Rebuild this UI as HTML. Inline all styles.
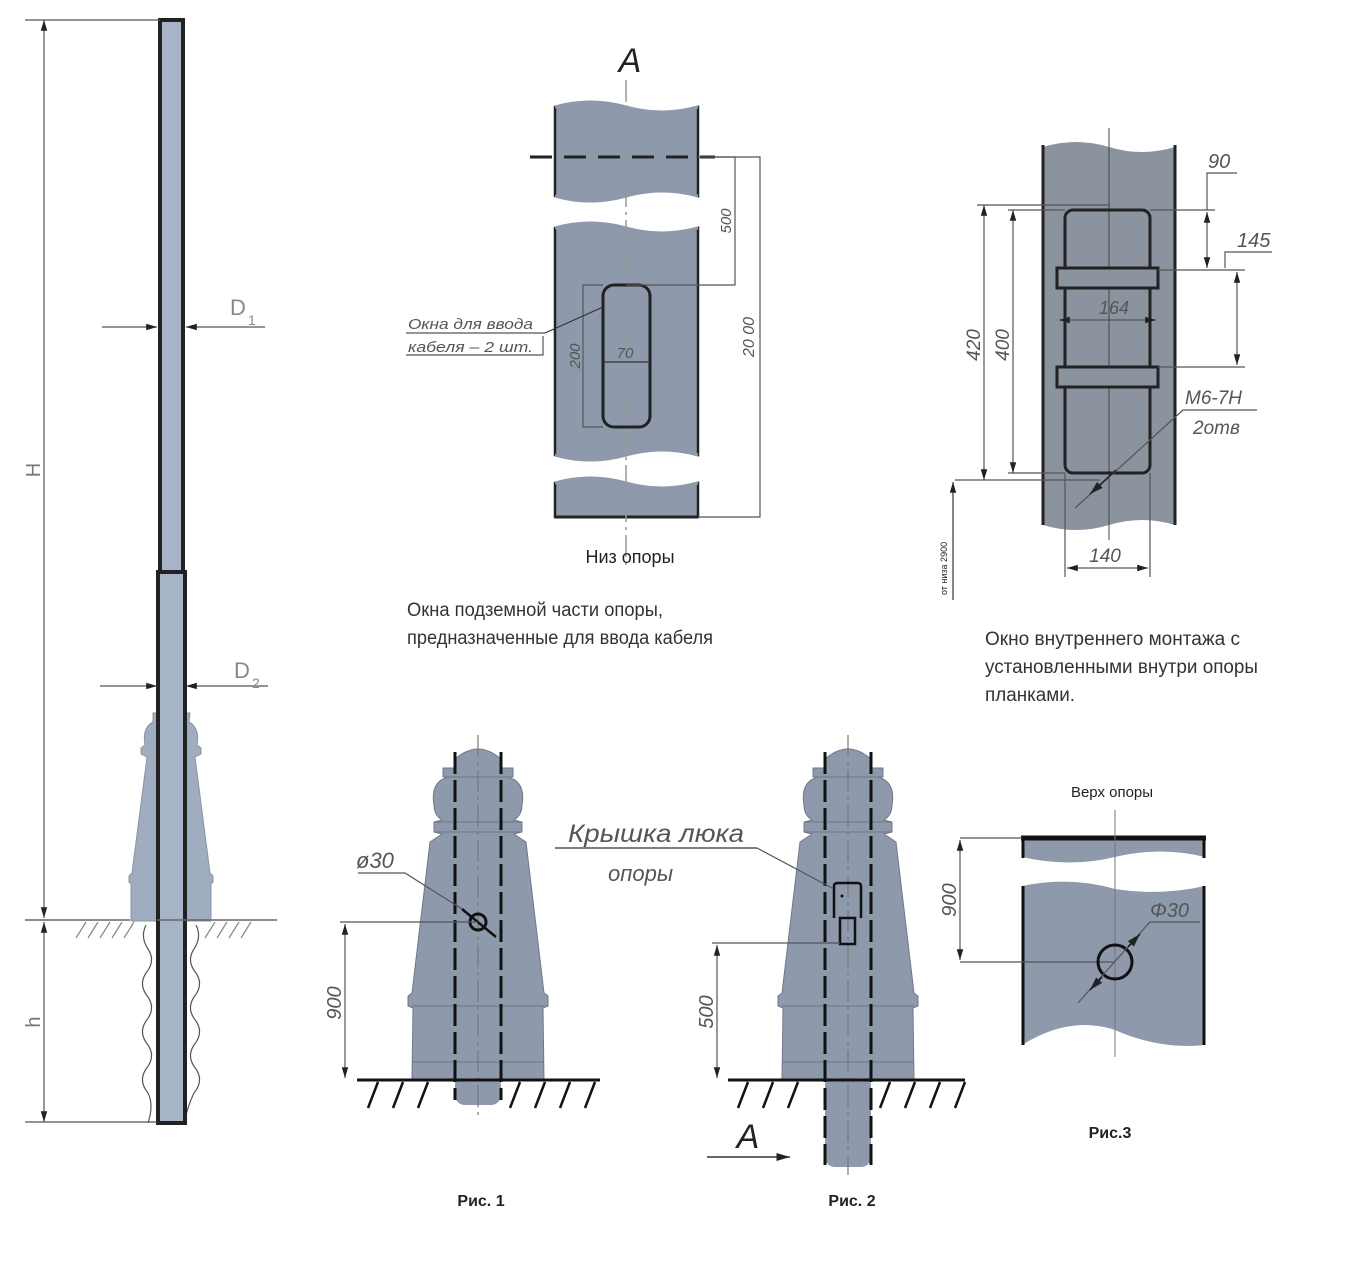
<!DOCTYPE html>
<html><head><meta charset="utf-8"><style>
html,body{margin:0;padding:0;background:#fff;}
svg{display:block;}
text{font-family:"Liberation Sans","DejaVu Sans",sans-serif;}
.dim{stroke:#555;stroke-width:1.2;fill:none;}
.cl{stroke:#777;stroke-width:1.2;fill:none;}
.it{font-style:italic;fill:#555;}
</style></head><body>
<svg width="1360" height="1280" viewBox="0 0 1360 1280" xmlns="http://www.w3.org/2000/svg">
<defs>
<marker id="ar" viewBox="0 0 10 10" refX="10" refY="5" markerWidth="9" markerHeight="9" orient="auto-start-reverse"><path d="M0,2 L10,5 L0,8 Z" fill="#222"/></marker>
<path id="base" d="M -24,760 Q 0,738 24,760 L 24,768 L 35,768 L 35,777 L 30,777 Q 48,782 44,805 Q 44,815 36,820 L 44,822 L 44,832 L 36,834 L 48,842 L 66,993 L 70,996 L 70,1006 L 65,1008 L 66,1080 L -66,1080 L -65,1008 L -70,1006 L -70,996 L -66,993 L -48,842 L -36,834 L -44,832 L -44,822 L -36,820 Q -44,815 -44,805 Q -48,782 -30,777 L -35,777 L -35,768 L -24,768 Z"/>
</defs>

<!-- ============ LEFT POLE ============ -->
<path d="M146,925 q-6,12 2,24 q8,12 -2,24 q-8,12 2,24 q8,12 -2,24 q-8,12 2,24 q8,12 -2,24 q-8,12 2,24 q6,12 0,30" class="dim" stroke="#999"/>
<path d="M196,925 q6,12 -2,24 q-8,12 2,24 q8,12 -2,24 q-8,12 2,24 q8,12 -2,24 q-8,12 2,24 q8,12 -2,24 q-6,12 -10,30" class="dim" stroke="#999"/>
<path d="M153,713 L190,713 L189,722 Q200,728 197,745 L201,748 L201,754 L195,757 L210,873 L213,876 L213,882 L211,884 L211,921 L131,921 L131,884 L129,882 L129,876 L132,873 L147,757 L141,754 L141,748 L145,745 Q142,728 153,722 Z" fill="#a0acbf" stroke="#8a94a4" stroke-width="1"/>
<rect x="160" y="20" width="23" height="552" fill="#a7b3c6" stroke="#222" stroke-width="4"/>
<rect x="158" y="572" width="27" height="551" fill="#a7b3c6" stroke="#222" stroke-width="4"/>
<line x1="157" y1="920" x2="277" y2="920" stroke="#666" stroke-width="1.5"/>
<line x1="25" y1="920" x2="130" y2="920" stroke="#666" stroke-width="1.5"/>
<g stroke="#888" stroke-width="1.2">
<line x1="76" y1="938" x2="86" y2="922"/><line x1="88" y1="938" x2="98" y2="922"/><line x1="100" y1="938" x2="110" y2="922"/><line x1="112" y1="938" x2="122" y2="922"/><line x1="124" y1="938" x2="134" y2="922"/>
<line x1="205" y1="938" x2="215" y2="922"/><line x1="217" y1="938" x2="227" y2="922"/><line x1="229" y1="938" x2="239" y2="922"/><line x1="241" y1="938" x2="251" y2="922"/>
</g>
<line x1="25" y1="20" x2="160" y2="20" class="dim"/>
<line x1="44" y1="20" x2="44" y2="918" class="dim" marker-start="url(#ar)" marker-end="url(#ar)"/>
<line x1="44" y1="922" x2="44" y2="1122" class="dim" marker-start="url(#ar)" marker-end="url(#ar)"/>
<line x1="25" y1="1122" x2="157" y2="1122" class="dim"/>
<text x="40" y="470" font-size="20" fill="#777" transform="rotate(-90 40 470)" text-anchor="middle">H</text>
<text x="40" y="1022" font-size="20" fill="#777" transform="rotate(-90 40 1022)" text-anchor="middle">h</text>
<line x1="102" y1="327" x2="157" y2="327" class="dim" marker-end="url(#ar)"/>
<line x1="265" y1="327" x2="186" y2="327" class="dim" marker-end="url(#ar)"/>
<text x="230" y="315" font-size="22" fill="#888">D</text><text x="248" y="325" font-size="14" fill="#888">1</text>
<line x1="100" y1="686" x2="157" y2="686" class="dim" marker-end="url(#ar)"/>
<line x1="268" y1="686" x2="186" y2="686" class="dim" marker-end="url(#ar)"/>
<text x="234" y="678" font-size="22" fill="#888">D</text><text x="252" y="688" font-size="14" fill="#888">2</text>

<!-- ============ FIG A ============ -->
<g fill="#8e99ac" stroke="#222" stroke-width="2.5">
<path d="M555,107 Q590,97 626,107 Q662,117 698,107 L698,196 Q662,186 626,196 Q590,206 555,196 Z"/>
<path d="M555,228 Q590,218 626,228 Q662,238 698,228 L698,455 Q662,445 626,455 Q590,465 555,455 Z"/>
<path d="M555,483 Q590,473 626,483 Q662,493 698,483 L698,517 L555,517 Z"/>
</g>
<g fill="none" stroke="#8e99ac" stroke-width="3">
<path d="M555,107 Q590,97 626,107 Q662,117 698,107"/><path d="M555,196 Q590,206 626,196 Q662,186 698,196"/>
<path d="M555,228 Q590,218 626,228 Q662,238 698,228"/><path d="M555,455 Q590,465 626,455 Q662,445 698,455"/>
<path d="M555,483 Q590,473 626,483 Q662,493 698,483"/>
</g>
<line x1="555" y1="517" x2="698" y2="517" stroke="#222" stroke-width="3"/>
<line x1="626" y1="80" x2="626" y2="565" stroke="#999" stroke-width="1.5" stroke-dasharray="22,5,3,5"/>
<line x1="530" y1="157" x2="715" y2="157" stroke="#222" stroke-width="3" stroke-dasharray="22,12"/>
<rect x="603" y="285" width="47" height="142" rx="11" fill="none" stroke="#222" stroke-width="3"/>
<polyline points="698,157 735,157 735,285 626,285" class="dim"/>
<polyline points="715,157 760,157 760,517 698,517" class="dim"/>
<polyline points="603,285 583,285 583,427 603,427" class="dim"/>
<line x1="603" y1="362" x2="650" y2="362" stroke="#333" stroke-width="1.2"/>
<text x="625" y="358" class="it" font-size="15" text-anchor="middle">70</text>
<text x="580" y="356" class="it" font-size="15" transform="rotate(-90 580 356)" text-anchor="middle">200</text>
<text x="731" y="221" class="it" font-size="15" transform="rotate(-90 731 221)" text-anchor="middle">500</text>
<text x="754" y="337" class="it" font-size="16" transform="rotate(-90 754 337)" text-anchor="middle">20 00</text>
<text x="408" y="329" class="it" font-size="15" textLength="125" lengthAdjust="spacingAndGlyphs">Окна для ввода</text>
<text x="408" y="352" class="it" font-size="15" textLength="125" lengthAdjust="spacingAndGlyphs">кабеля – 2 шт.</text>
<line x1="406" y1="333" x2="545" y2="333" stroke="#555" stroke-width="1.2"/>
<polyline points="406,355 543,355 543,336" class="dim" stroke="#bbb"/>
<line x1="545" y1="333" x2="603" y2="307" stroke="#333" stroke-width="1.2"/>
<text x="630" y="72" font-size="34" font-style="italic" fill="#222" text-anchor="middle">A</text>
<text x="630" y="563" font-size="18" fill="#222" text-anchor="middle">Низ опоры</text>
<text x="407" y="616" font-size="19" fill="#333" textLength="256" lengthAdjust="spacingAndGlyphs">Окна подземной части опоры,</text>
<text x="407" y="644" font-size="19" fill="#333" textLength="306" lengthAdjust="spacingAndGlyphs">предназначенные для ввода кабеля</text>

<!-- ============ TOP RIGHT ============ -->
<path d="M1043,147 Q1076,137 1109,147 Q1142,157 1175,147 L1175,525 Q1142,515 1109,525 Q1076,535 1043,525 Z" fill="#8b939f" stroke="none"/>
<line x1="1043" y1="145" x2="1043" y2="525" stroke="#222" stroke-width="3"/>
<line x1="1175" y1="145" x2="1175" y2="525" stroke="#222" stroke-width="3"/>
<line x1="1109" y1="128" x2="1109" y2="540" stroke="#444" stroke-width="1"/>
<rect x="1065" y="210" width="85" height="263" rx="8" fill="none" stroke="#222" stroke-width="3"/>
<rect x="1057" y="268" width="101" height="20" fill="#8b939f" stroke="#222" stroke-width="3"/>
<rect x="1057" y="367" width="101" height="20" fill="#8b939f" stroke="#222" stroke-width="3"/>
<line x1="977" y1="205" x2="1110" y2="205" class="dim"/>
<line x1="1008" y1="210" x2="1065" y2="210" class="dim"/>
<line x1="1008" y1="473" x2="1065" y2="473" class="dim"/>
<line x1="955" y1="480" x2="1100" y2="480" class="dim"/>
<line x1="984" y1="205" x2="984" y2="480" class="dim" marker-start="url(#ar)" marker-end="url(#ar)"/>
<line x1="1013" y1="210" x2="1013" y2="473" class="dim" marker-start="url(#ar)" marker-end="url(#ar)"/>
<text x="980" y="345" class="it" font-size="19" transform="rotate(-90 980 345)" text-anchor="middle">420</text>
<text x="1009" y="345" class="it" font-size="19" transform="rotate(-90 1009 345)" text-anchor="middle">400</text>
<line x1="1150" y1="210" x2="1215" y2="210" class="dim"/>
<line x1="1158" y1="270" x2="1245" y2="270" class="dim"/>
<line x1="1158" y1="367" x2="1245" y2="367" class="dim"/>
<polyline points="1237,173 1207,173 1207,210" class="dim"/>
<line x1="1207" y1="212" x2="1207" y2="268" class="dim" marker-start="url(#ar)" marker-end="url(#ar)"/>
<text x="1208" y="168" class="it" font-size="20">90</text>
<polyline points="1272,252 1225,252 1225,268" class="dim"/>
<line x1="1237" y1="272" x2="1237" y2="365" class="dim" marker-start="url(#ar)" marker-end="url(#ar)"/>
<text x="1237" y="247" class="it" font-size="20">145</text>
<line x1="1059" y1="320" x2="1156" y2="320" class="dim" marker-start="url(#ar)" marker-end="url(#ar)"/>
<text x="1114" y="314" class="it" font-size="18" text-anchor="middle">164</text>
<polyline points="1075,508 1183,410 1257,410" class="dim"/>
<line x1="1090" y1="494" x2="1116" y2="470" stroke="#222" stroke-width="1.5" marker-start="url(#ar)"/>
<text x="1185" y="404" class="it" font-size="19">M6-7H</text>
<text x="1193" y="434" class="it" font-size="19">2отв</text>
<line x1="1065" y1="473" x2="1065" y2="577" class="dim"/>
<line x1="1150" y1="473" x2="1150" y2="577" class="dim"/>
<line x1="1067" y1="568" x2="1148" y2="568" class="dim" marker-start="url(#ar)" marker-end="url(#ar)"/>
<text x="1105" y="562" class="it" font-size="19" text-anchor="middle">140</text>
<line x1="953" y1="482" x2="953" y2="600" stroke="#333" stroke-width="1.2" marker-start="url(#ar)"/>
<text x="947" y="595" font-size="9" fill="#222" transform="rotate(-90 947 595)">от низа 2900</text>
<text x="985" y="645" font-size="19" fill="#333" textLength="255" lengthAdjust="spacingAndGlyphs">Окно внутреннего монтажа с</text>
<text x="985" y="673" font-size="19" fill="#333" textLength="273" lengthAdjust="spacingAndGlyphs">установленными внутри опоры</text>
<text x="985" y="701" font-size="19" fill="#333" textLength="90" lengthAdjust="spacingAndGlyphs">планками.</text>

<!-- ============ FIG 1 ============ -->
<rect x="455" y="1075" width="46" height="30" rx="10" fill="#8e99ac"/>
<g transform="translate(478,0)"><use href="#base" fill="#8e99ac" stroke="#6e788a" stroke-width="1"/></g>
<g stroke="#6e788a" stroke-width="1"><line x1="443" y1="777" x2="513" y2="777"/><line x1="434" y1="822" x2="522" y2="822"/><line x1="434" y1="832" x2="522" y2="832"/><line x1="412" y1="1006" x2="544" y2="1006"/><line x1="412" y1="1062" x2="544" y2="1062"/></g>
<line x1="478" y1="735" x2="478" y2="1118" class="cl" stroke-dasharray="22,5,3,5"/>
<line x1="455" y1="752" x2="455" y2="1100" stroke="#111" stroke-width="3" stroke-dasharray="22,6"/>
<line x1="501" y1="752" x2="501" y2="1100" stroke="#111" stroke-width="3" stroke-dasharray="22,6"/>
<line x1="357" y1="1080" x2="600" y2="1080" stroke="#111" stroke-width="3"/>
<g stroke="#111" stroke-width="2.5"><line x1="368" y1="1108" x2="378" y2="1082"/><line x1="393" y1="1108" x2="403" y2="1082"/><line x1="418" y1="1108" x2="428" y2="1082"/><line x1="510" y1="1108" x2="520" y2="1082"/><line x1="535" y1="1108" x2="545" y2="1082"/><line x1="560" y1="1108" x2="570" y2="1082"/><line x1="585" y1="1108" x2="595" y2="1082"/></g>
<circle cx="478" cy="922" r="8" fill="none" stroke="#111" stroke-width="3"/>
<line x1="462" y1="909" x2="496" y2="937" stroke="#111" stroke-width="2.5"/>
<polyline points="358,873 405,873 462,909" class="dim"/>
<text x="356" y="868" class="it" font-size="22">ø30</text>
<polyline points="478,922 340,922" class="dim"/>
<line x1="345" y1="924" x2="345" y2="1078" class="dim" marker-start="url(#ar)" marker-end="url(#ar)"/>
<text x="341" y="1003" class="it" font-size="20" transform="rotate(-90 341 1003)" text-anchor="middle">900</text>
<text x="481" y="1206" font-size="16" font-weight="bold" fill="#222" text-anchor="middle">Рис. 1</text>

<!-- ============ FIG 2 ============ -->
<rect x="825" y="1075" width="46" height="92" rx="10" fill="#8e99ac"/>
<g transform="translate(848,0)"><use href="#base" fill="#8e99ac" stroke="#6e788a" stroke-width="1"/></g>
<g stroke="#6e788a" stroke-width="1"><line x1="813" y1="777" x2="883" y2="777"/><line x1="804" y1="822" x2="892" y2="822"/><line x1="804" y1="832" x2="892" y2="832"/><line x1="782" y1="1006" x2="914" y2="1006"/><line x1="782" y1="1062" x2="914" y2="1062"/></g>
<line x1="848" y1="735" x2="848" y2="1175" class="cl" stroke-dasharray="22,5,3,5"/>
<line x1="825" y1="752" x2="825" y2="1165" stroke="#111" stroke-width="3" stroke-dasharray="22,6"/>
<line x1="871" y1="752" x2="871" y2="1165" stroke="#111" stroke-width="3" stroke-dasharray="22,6"/>
<line x1="728" y1="1080" x2="965" y2="1080" stroke="#111" stroke-width="3"/>
<g stroke="#111" stroke-width="2.5"><line x1="738" y1="1108" x2="748" y2="1082"/><line x1="763" y1="1108" x2="773" y2="1082"/><line x1="788" y1="1108" x2="798" y2="1082"/><line x1="880" y1="1108" x2="890" y2="1082"/><line x1="905" y1="1108" x2="915" y2="1082"/><line x1="930" y1="1108" x2="940" y2="1082"/><line x1="955" y1="1108" x2="965" y2="1082"/></g>
<path d="M834,918 L834,886 Q834,883 838,883 L857,883 Q861,883 861,886 L861,918" fill="none" stroke="#111" stroke-width="2.5"/>
<rect x="840" y="918" width="15" height="26" fill="none" stroke="#111" stroke-width="2.5"/>
<circle cx="842" cy="896" r="1.5" fill="#111"/>
<text x="568" y="842" class="it" font-size="25" fill="#777" textLength="176" lengthAdjust="spacingAndGlyphs">Крышка люка</text>
<line x1="555" y1="848" x2="757" y2="848" stroke="#555" stroke-width="1.5"/>
<line x1="757" y1="848" x2="832" y2="888" stroke="#555" stroke-width="1.2"/>
<text x="608" y="881" class="it" font-size="22" fill="#777">опоры</text>
<line x1="712" y1="943" x2="840" y2="943" class="dim"/>
<line x1="717" y1="945" x2="717" y2="1078" class="dim" marker-start="url(#ar)" marker-end="url(#ar)"/>
<text x="713" y="1012" class="it" font-size="20" transform="rotate(-90 713 1012)" text-anchor="middle">500</text>
<text x="748" y="1148" font-size="34" font-style="italic" fill="#222" text-anchor="middle">A</text>
<line x1="707" y1="1157" x2="790" y2="1157" stroke="#333" stroke-width="1.5" marker-end="url(#ar)"/>
<text x="852" y="1206" font-size="16" font-weight="bold" fill="#222" text-anchor="middle">Рис. 2</text>

<!-- ============ FIG 3 ============ -->
<text x="1112" y="797" font-size="15" fill="#222" text-anchor="middle">Верх опоры</text>
<path d="M1022,838 L1205,838 L1205,857 Q1160,846 1115,857 Q1070,868 1022,857 Z" fill="#8e99ac"/>
<path d="M1022,886 Q1070,876 1115,889 Q1160,896 1205,886 L1205,1045 Q1160,1050 1115,1030 Q1070,1015 1022,1045 Z" fill="#8e99ac"/>
<line x1="1021" y1="838" x2="1206" y2="838" stroke="#111" stroke-width="5"/>
<g stroke="#111" stroke-width="3"><line x1="1023" y1="838" x2="1023" y2="858"/><line x1="1204" y1="838" x2="1204" y2="858"/><line x1="1023" y1="886" x2="1023" y2="1045"/><line x1="1204" y1="886" x2="1204" y2="1045"/></g>
<line x1="1115" y1="810" x2="1115" y2="1057" stroke="#777" stroke-width="1"/>
<polyline points="1022,838 960,838" class="dim"/>
<polyline points="1115,962 960,962" class="dim"/>
<line x1="960" y1="840" x2="960" y2="960" class="dim" marker-start="url(#ar)" marker-end="url(#ar)"/>
<text x="956" y="900" class="it" font-size="20" fill="#999" transform="rotate(-90 956 900)" text-anchor="middle">900</text>
<circle cx="1115" cy="962" r="17" fill="none" stroke="#111" stroke-width="3"/>
<polyline points="1078,1003 1150,922 1200,922" class="dim"/>
<line x1="1090" y1="990" x2="1102" y2="977" stroke="#111" stroke-width="1.5" marker-start="url(#ar)"/>
<line x1="1140" y1="934" x2="1128" y2="947" stroke="#111" stroke-width="1.5" marker-start="url(#ar)"/>
<text x="1150" y="917" class="it" font-size="20" fill="#777">Φ30</text>
<text x="1110" y="1138" font-size="16" font-weight="bold" fill="#222" text-anchor="middle">Рис.3</text>
</svg>
</body></html>
